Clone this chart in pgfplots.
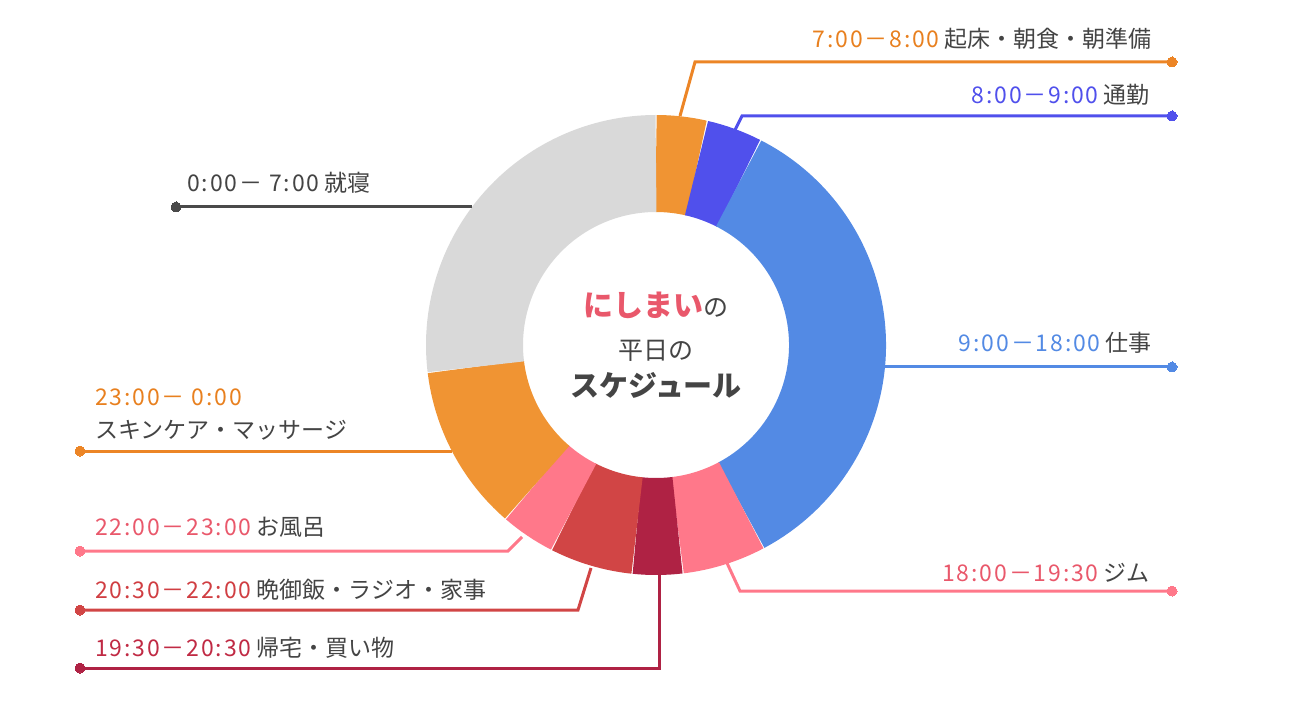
\documentclass[border=0pt]{standalone}
\usepackage{pgfplots}
\usepackage{pgfplotstable}
\pgfplotsset{compat=1.18}
\usepackage{fontspec}
\setmainfont{Noto Sans CJK JP}
\newfontfamily\digfont{Noto Sans CJK JP}[LetterSpace=8]

\definecolor{cOrange}{HTML}{F09433}
\definecolor{cPurple}{HTML}{5050EC}
\definecolor{cBlue}{HTML}{538AE4}
\definecolor{cPink}{HTML}{FF788A}
\definecolor{cCrimson}{HTML}{AF2244}
\definecolor{cRed}{HTML}{D14545}
\definecolor{cGray}{HTML}{D9D9D9}
\definecolor{cText}{HTML}{444444}
\definecolor{tOrange}{HTML}{E8801F}
\definecolor{tPink}{HTML}{E9586B}
\definecolor{tRed}{HTML}{D03E42}
\definecolor{tCrimson}{HTML}{C02A44}
\definecolor{lGray}{HTML}{4A4A4A}
\definecolor{lOrange}{HTML}{EC8526}

% segments, clockwise from 12 o'clock, in degrees
\pgfplotstableread{
from  to     col
0     12.9   cOrange
12.9  27.1   cPurple
27.1  152    cBlue
152   173.2  cPink
173.2 186    cCrimson
186   207    cRed
207   220.9  cPink
220.9 263.1  cOrange
263.1 360    cGray
}\segs

\newcommand{\lbl}{\fontsize{23}{26}\selectfont\color{cText}}
\newcommand{\tm}[2]{\textcolor{#1}{\digfont #2}}

\begin{document}
\begin{tikzpicture}
\begin{axis}[
    hide axis, clip=false, scale only axis,
    width=1310pt, height=703pt,
    xmin=0, xmax=1310, ymin=0, ymax=703,
    y dir=reverse,
    every axis plot/.style={line width=3pt, mark=*, mark indices={3},
        mark options={mark size=5pt, line width=0pt}},
]
\path (axis cs:0,0) (axis cs:1310,703);

% donut
\pgfplotstablegetrowsof{\segs}
\pgfmathtruncatemacro{\nrows}{\pgfplotsretval-1}
\pgfplotsforeachungrouped \i in {0,...,\nrows}{
    \pgfplotstablegetelem{\i}{from}\of\segs \let\a\pgfplotsretval
    \pgfplotstablegetelem{\i}{to}\of\segs \let\b\pgfplotsretval
    \pgfplotstablegetelem{\i}{col}\of\segs \let\c\pgfplotsretval
    \edef\tmp{\noexpand\draw[line width=97pt, \c]
        ([shift={(90-\a:181.5pt)}]axis cs:656,345)
        arc[start angle=90-\a, end angle=90-\b, radius=181.5pt];}
    \tmp
}

% leader lines
\addplot[lOrange] coordinates {(680,116) (695,62) (1172,62)};
\addplot[cPurple] coordinates {(735,130) (742,116) (1172,116)};
\addplot[cBlue] coordinates {(884,367) (1000,367) (1172,367)};
\addplot[cPink] coordinates {(727,563) (740,591) (1172,591)};
\addplot[cCrimson] coordinates {(659,573) (659,668) (80,668)};
\addplot[cRed] coordinates {(591,568) (578,610) (80,610)};
\addplot[cPink] coordinates {(522,537) (508,551) (80,551)};
\addplot[lOrange] coordinates {(452,451) (300,451) (80,451)};
\addplot[lGray] coordinates {(472,207) (300,207) (176,207)};

% labels
\begin{scope}[every node/.style={inner sep=0pt, font=\lbl}]
\node[anchor=east] at (axis cs:1152,39) {\tm{tOrange}{7:00－8:00} 起床・朝食・朝準備};
\node[anchor=east] at (axis cs:1150,95) {\tm{cPurple}{8:00－9:00} 通勤};
\node[anchor=east] at (axis cs:1152,343) {\tm{cBlue}{9:00－18:00} 仕事};
\node[anchor=east] at (axis cs:1150,573) {\tm{tPink}{18:00－19:30} ジム};
\node[anchor=west] at (axis cs:187,183) {\tm{cText}{0:00－ 7:00} 就寝};
\node[anchor=west] at (axis cs:95,397) {\tm{tOrange}{23:00－ 0:00}};
\node[anchor=west] at (axis cs:95,430) {スキンケア・マッサージ};
\node[anchor=west] at (axis cs:95,527) {\tm{tPink}{22:00－23:00} お風呂};
\node[anchor=west] at (axis cs:95,590) {\tm{tRed}{20:30－22:00} 晩御飯・ラジオ・家事};
\node[anchor=west] at (axis cs:95,648) {\tm{tCrimson}{19:30－20:30} 帰宅・買い物};
\end{scope}

% centre title
\node[inner sep=0pt, text=cText] at (axis cs:656,305)
    {\fontsize{30}{32}\selectfont\textcolor{tPink}{\bfseries にしまい}\fontsize{25}{30}\selectfont の};
\node[inner sep=0pt, text=cText, font=\fontsize{25}{28}\selectfont] at (axis cs:656,351) {平日の};
\node[inner sep=0pt, text=cText, font=\fontsize{29}{32}\bfseries\selectfont] at (axis cs:656,385) {スケジュール};
\end{axis}
\end{tikzpicture}
\end{document}
